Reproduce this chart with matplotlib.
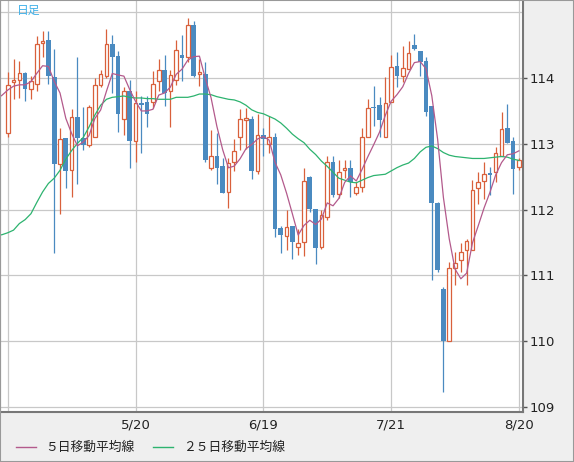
import numpy as np
import pandas as pd
import matplotlib
matplotlib.use("Agg")
import matplotlib.pyplot as plt
from matplotlib.lines import Line2D
from matplotlib.patches import Rectangle

# daily candles
opens = [113.16, 113.94, 113.98, 114.08, 113.83, 113.92, 114.53, 114.58, 114.02, 112.70,
         113.09, 112.61, 113.41, 113.09, 112.98, 113.11, 113.89, 114.04, 114.52, 114.34,
         113.38, 113.81, 113.04, 113.62, 113.64, 113.64, 113.96, 114.13, 113.80, 113.98,
         114.36, 114.33, 114.81, 114.07, 114.07, 112.63, 112.82, 112.66, 112.27, 112.73,
         113.10, 113.37, 113.38, 112.59, 113.13, 113.00, 113.11, 111.73, 111.60, 111.75,
         111.43, 111.51, 112.50, 112.01, 111.44, 111.89, 112.73, 112.24, 112.60, 112.63,
         112.25, 112.34, 113.10, 113.57, 113.59, 113.10, 113.64, 114.19, 114.04, 114.14,
         114.51, 114.42, 114.26, 113.58, 112.11, 110.80, 110.00, 111.11, 111.23, 111.39,
         111.39, 112.33, 112.44, 112.56, 112.57, 112.81, 113.24, 113.05, 112.65]
highs = [114.09, 114.30, 114.26, 114.10, 114.03, 114.64, 114.72, 114.72, 114.44, 113.24,
         113.09, 113.53, 114.32, 113.57, 113.59, 114.00, 114.13, 114.75, 114.66, 114.42,
         113.87, 113.97, 113.81, 113.73, 113.73, 114.11, 114.29, 114.36, 114.13, 114.58,
         114.66, 114.92, 114.87, 114.30, 114.24, 113.22, 113.17, 112.78, 112.78, 113.07,
         113.53, 113.55, 113.43, 113.46, 113.25, 113.42, 113.17, 111.75, 112.00, 111.76,
         111.70, 112.63, 112.52, 112.01, 112.00, 112.82, 112.81, 112.76, 112.76, 112.75,
         112.42, 113.24, 113.68, 113.88, 113.72, 114.02, 114.36, 114.40, 114.49, 114.57,
         114.67, 114.42, 114.33, 113.58, 112.12, 110.82, 111.21, 111.36, 111.49, 111.55,
         112.46, 112.58, 112.72, 112.65, 112.95, 113.49, 113.61, 113.11, 112.79]
lows = [113.10, 113.69, 113.70, 113.66, 113.69, 113.80, 114.33, 113.92, 111.34, 111.94,
        112.33, 112.20, 112.39, 112.91, 112.96, 113.10, 113.86, 114.00, 113.77, 113.19,
        113.13, 112.64, 112.73, 112.86, 113.26, 113.55, 113.80, 113.58, 113.26, 113.90,
        113.96, 114.25, 114.02, 113.88, 112.73, 112.61, 112.39, 112.25, 112.03, 112.59,
        112.91, 112.93, 112.47, 112.55, 112.81, 112.86, 111.59, 111.34, 111.39, 111.25,
        111.31, 111.29, 111.97, 111.17, 111.40, 111.85, 112.19, 112.18, 112.48, 112.19,
        112.22, 112.27, 113.10, 113.27, 113.10, 113.10, 113.64, 113.87, 113.95, 114.14,
        114.43, 114.03, 113.43, 110.93, 111.05, 109.23, 110.00, 110.85, 111.06, 110.85,
        111.39, 112.08, 112.16, 112.22, 112.42, 112.81, 113.02, 112.24, 112.61]
closes = [113.89, 113.98, 114.08, 113.83, 113.96, 114.52, 114.56, 114.03, 112.70, 113.07,
          112.59, 113.41, 113.09, 112.99, 113.56, 113.89, 114.06, 114.52, 114.33, 113.45,
          113.80, 113.04, 113.62, 113.60, 113.46, 113.92, 114.12, 113.78, 114.05, 114.43,
          114.31, 114.81, 114.04, 114.09, 112.76, 112.82, 112.64, 112.26, 112.71, 112.89,
          113.38, 113.39, 112.59, 113.13, 113.08, 113.11, 111.71, 111.62, 111.74, 111.51,
          111.50, 112.44, 112.01, 111.42, 111.92, 112.73, 112.22, 112.57, 112.64, 112.42,
          112.34, 113.10, 113.54, 113.55, 113.37, 113.62, 114.17, 114.04, 114.15, 114.39,
          114.44, 114.25, 113.49, 112.10, 111.09, 110.00, 111.11, 111.19, 111.36, 111.52,
          112.30, 112.42, 112.54, 112.53, 112.86, 113.23, 113.02, 112.62, 112.75]

# moving averages: first points (before enough candles are visible)
ma5_head = [113.68, 113.74, 113.82, 113.88, 113.90, 113.90]   # index -2 .. 3
ma25 = [111.61, 111.62, 111.65, 111.69, 111.79, 111.85, 111.94, 112.11, 112.27, 112.40,
        112.48, 112.60, 112.77, 112.90, 113.01, 113.10, 113.26, 113.44, 113.59, 113.68,
        113.71, 113.72, 113.73, 113.71, 113.70, 113.70, 113.69, 113.69, 113.68, 113.68,
        113.68, 113.71, 113.71, 113.71, 113.73, 113.76, 113.76, 113.75, 113.72, 113.70,
        113.68, 113.67, 113.64, 113.59, 113.52, 113.48, 113.46, 113.42, 113.38, 113.32,
        113.24, 113.15, 113.08, 113.02, 112.92, 112.84, 112.74, 112.66, 112.57, 112.48,
        112.45, 112.42, 112.41, 112.45, 112.49, 112.52, 112.53, 112.54, 112.59, 112.64,
        112.68, 112.71, 112.78, 112.88, 112.95, 112.97, 112.93, 112.87, 112.83, 112.81,
        112.80, 112.79, 112.78, 112.78, 112.78, 112.79, 112.80, 112.81, 112.80, 112.77,
        112.75]   # index -2 .. 88

date_pos = [22, 44, 66, 88]
date_labels = ["5/20", "6/19", "7/21", "8/20"]
y_ticks = [109, 110, 111, 112, 113, 114]

UP = "#d9603b"
DOWN = "#4a8ac0"
MA5_C = "#b35a8c"
MA25_C = "#2db36f"
BG = "#efefef"

W, H = 574, 462
fig = plt.figure(figsize=(W / 100, H / 100), dpi=100, facecolor=BG)
ax = fig.add_axes([0, (H - 412) / H, 523 / W, 412 / H])
ax.set_facecolor("white")

x = np.arange(len(closes))
o = np.array(opens); c = np.array(closes)
hi = np.array(highs); lo = np.array(lows)
up = c >= o

# grid
for yv in range(109, 116):
    ax.axhline(yv, color="#c8c8c8", lw=0.9, zorder=0)
for xv in [0] + date_pos:
    ax.axvline(xv, color="#c8c8c8", lw=0.9, zorder=0)

# down candles: filled
ax.vlines(x[~up], lo[~up], hi[~up], color=DOWN, lw=0.9, zorder=2)
ax.bar(x[~up], np.maximum(o[~up] - c[~up], 0.02), bottom=c[~up], width=0.8,
       color=DOWN, edgecolor="none", zorder=3)
# up candles: hollow, wick stops at body
ax.vlines(x[up], lo[up], o[up], color=UP, lw=0.9, zorder=2)
ax.vlines(x[up], c[up], hi[up], color=UP, lw=0.9, zorder=2)
ax.bar(x[up], np.maximum(c[up] - o[up], 0.02), bottom=o[up], width=0.62,
       facecolor="white", edgecolor=UP, lw=0.9, zorder=3)

ma5 = np.concatenate([ma5_head, pd.Series(closes).rolling(5).mean().values[4:]])
x_ma = np.arange(-2, len(closes))
ax.plot(x_ma, ma25, color=MA25_C, lw=0.9, zorder=4)
ax.plot(x_ma, ma5, color=MA5_C, lw=0.9, zorder=4)

ax.set_xlim(-1.33, 88.7)
ax.set_ylim(108.924, 115.19)

ax.yaxis.tick_right()
ax.set_yticks(y_ticks)
ax.set_yticklabels([str(v) for v in y_ticks])
ax.set_xticks(date_pos)
ax.set_xticklabels(date_labels)
ax.tick_params(axis="y", length=3, width=1, color="#555555", pad=2,
               labelsize=9.5, labelcolor="#222222")
ax.tick_params(axis="x", length=0, pad=5, labelsize=9.5, labelcolor="#222222")

for side in ["left", "right", "bottom"]:
    ax.spines[side].set_color("#777777")
    ax.spines[side].set_linewidth(1.5)
ax.spines["top"].set_visible(False)

jp = ["Noto Sans CJK JP", "DejaVu Sans"]
fig.text(17 / W, 1 - 10.5 / H, "日足", family=jp, fontsize=8.5, color="#3fb0e8",
         va="center", ha="left")

# legend
ly = 1 - 447 / H
fig.add_artist(Line2D([16 / W, 36 / W], [ly, ly], color=MA5_C, lw=1.0))
fig.text(45 / W, ly, "５日移動平均線", family=jp, fontsize=9.2, color="#222222",
         va="center", ha="left")
fig.add_artist(Line2D([153 / W, 173 / W], [ly, ly], color=MA25_C, lw=1.0))
fig.text(183 / W, ly, "２５日移動平均線", family=jp, fontsize=9.2, color="#222222",
         va="center", ha="left")

fig.add_artist(Rectangle((0, 0), 1, 1, transform=fig.transFigure, fill=False,
                         edgecolor="#999999", lw=1.5))

fig.savefig("out.png", dpi=100, facecolor=BG)
